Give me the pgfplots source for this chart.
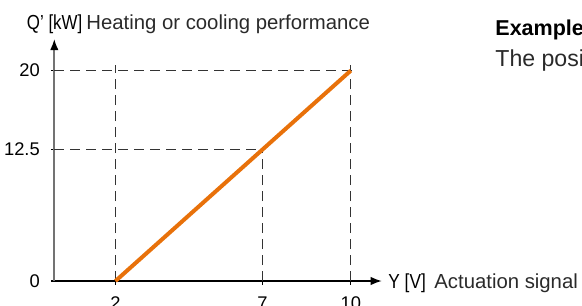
\documentclass[border=0pt]{standalone}
\usepackage{pgfplots}
\pgfplotsset{compat=1.18}
\usepackage{fontspec}
\setmainfont{Liberation Sans}
\usetikzlibrary{arrows.meta}
\definecolor{orangeline}{HTML}{E8710A}
\definecolor{dashgray}{HTML}{333333}
\definecolor{txtgray}{HTML}{2A2A2A}
\begin{document}
\begin{tikzpicture}[x=1bp,y=1bp]
\useasboundingbox (-27.15,-12.5) rectangle (263.85,140.5);
\clip (-27.15,-12.5) rectangle (263.85,140.5);
\begin{axis}[
  at={(0,0)}, anchor=south west,
  scale only axis, width=163.7bp, height=121bp,
  xmin=-0.08, xmax=11.05, ymin=0, ymax=23,
  axis x line=bottom, axis y line=left,
  x axis line style={black, line width=0.65bp, -{Latex[length=5.5bp,width=4.2bp]}},
  y axis line style={draw=black!55, line width=0.85bp, -{Latex[length=5.5bp,width=4.2bp,color=black]}},
  xtick={2,7,10}, ytick={0,12.5,20},
  yticklabels={0,12.5,20},
  tick align=center, major tick length=3.5bp,
  tick style={black, line width=0.6bp},
  /pgf/number format/assume math mode=true,
  tick label style={font=\fontsize{9.2}{11}\selectfont, text=black},
  yticklabel style={xshift=-2bp},
  xticklabel style={yshift=-2.7bp},
  clip=false,
]
\addplot[dashgray, line width=0.65bp, dash pattern=on 5bp off 3bp] coordinates {(-0.08,20) (10.17,20)};
\addplot[dashgray, line width=0.65bp, dash pattern=on 5bp off 3bp] coordinates {(-0.08,12.5) (7.05,12.5)};
\addplot[dashgray, line width=0.65bp, dash pattern=on 5bp off 3bp] coordinates {(2,0) (2,20.5)};
\addplot[dashgray, line width=0.65bp, dash pattern=on 5bp off 3bp] coordinates {(7,0) (7,12.6)};
\addplot[dashgray, line width=0.65bp, dash pattern=on 5bp off 3bp] coordinates {(10,0) (10,20.5)};
\addplot[orangeline, line width=2bp] coordinates {(2,0) (10,20)};
\end{axis}
\node[anchor=base west, inner sep=0, text=black] at (-13.85,125.85) {\fontsize{10.2}{12}\selectfont\scalebox{0.83}[1]{Q\char"0027{} [kW]}};
\node[anchor=base west, inner sep=0, text=txtgray] at (15.85,125.85) {\fontsize{10.2}{12}\selectfont Heating or cooling performance};
\node[anchor=base west, inner sep=0, text=black] at (166.85,-3.65) {\fontsize{10.2}{12}\selectfont\scalebox{0.85}[1]{Y [V]}};
\node[anchor=base west, inner sep=0, text=txtgray] at (189.85,-3.65) {\fontsize{10.2}{12}\selectfont Actuation signal};
\node[anchor=base west, inner sep=0, text=black] at (220.35,123) {\fontsize{10.8}{13}\selectfont\bfseries Example};
\node[anchor=base west, inner sep=0, text=txtgray] at (220.35,107.15) {\fontsize{11.6}{14}\selectfont The position};
\end{tikzpicture}
\end{document}
